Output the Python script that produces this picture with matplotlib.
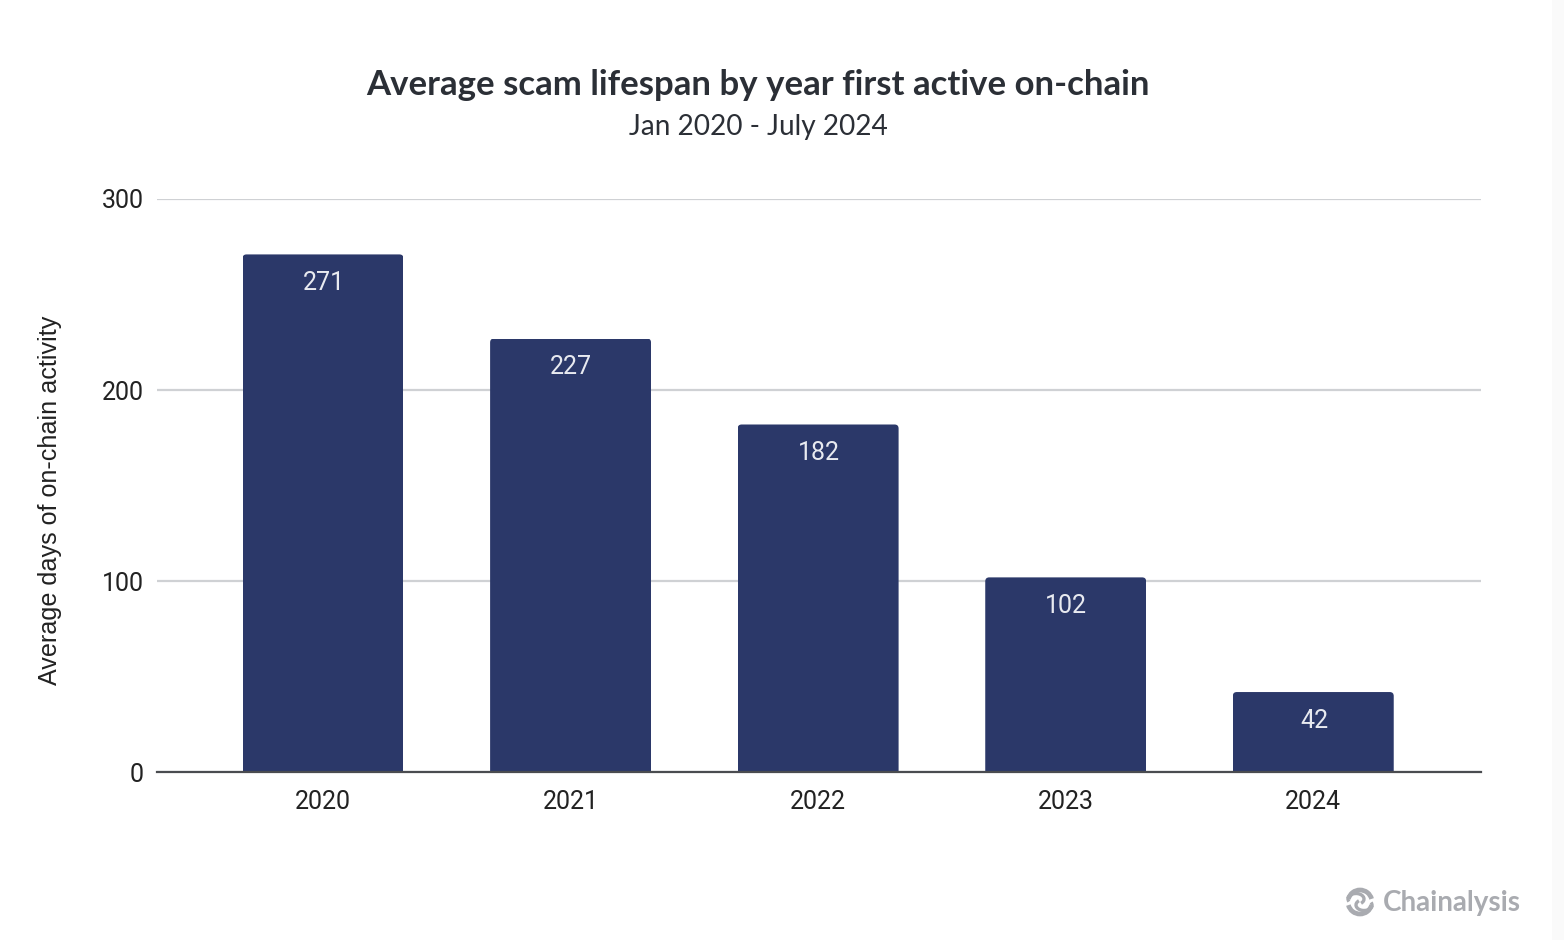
import matplotlib
matplotlib.use("Agg")
import matplotlib.pyplot as plt
from matplotlib.path import Path
from matplotlib.patches import Arc, Rectangle

years = ["2020", "2021", "2022", "2023", "2024"]
lifespan = [271, 227, 182, 102, 42]
y_ticks = [0, 100, 200, 300]

W, H = 1564, 940
NAVY = "#2b3869"
INK = "#2b2f36"


def rounded_top(x0, x1, top, rx, ry):
    """Clip path for a bar, square at the base and rounded at the top."""
    verts = [(x0, -5), (x0, top - ry), (x0, top), (x0 + rx, top),
             (x1 - rx, top), (x1, top), (x1, top - ry), (x1, -5), (x0, -5)]
    codes = [Path.MOVETO, Path.LINETO, Path.CURVE3, Path.CURVE3,
             Path.LINETO, Path.CURVE3, Path.CURVE3, Path.LINETO, Path.CLOSEPOLY]
    return Path(verts, codes)


fig = plt.figure(figsize=(W / 100, H / 100), dpi=100, facecolor="white")
ax = fig.add_axes([157 / W, 1 - 772.3 / H, (1481 - 157) / W, (772.3 - 199) / H])

xs = list(range(len(years)))
bars = ax.bar(xs, lifespan, width=0.65, color=NAVY, zorder=3)
for b in bars:
    # corners are about 4px on screen
    b.set_clip_path(rounded_top(b.get_x(), b.get_x() + b.get_width(), b.get_height(),
                                4 / 247.6, 4 / 1.91), ax.transData)

for x, v in zip(xs, lifespan):
    ax.annotate(str(v), (x, v), xytext=(0.5, -28.5 * 0.72), textcoords="offset points",
                ha="center", va="center", color="#e8eaf0", fontsize=18,
                family="Roboto", zorder=4)

ax.set_xlim(-0.6705, 4.6775)
ax.set_ylim(0, 300)
ax.set_yticks(y_ticks)
ax.set_xticks(xs, years)
ax.grid(axis="y", color="#cfd1d4", lw=1.6, zorder=0)
ax.set_axisbelow(True)
for s in ["top", "right", "left"]:
    ax.spines[s].set_visible(False)
ax.spines["bottom"].set_color("#4a4c50")
ax.spines["bottom"].set_linewidth(1.6)
ax.spines["bottom"].set_zorder(5)
ax.tick_params(length=0, labelsize=18, labelcolor="#222222")
ax.tick_params(axis="x", pad=13)
ax.tick_params(axis="y", pad=9.5)
for lab in ax.get_xticklabels() + ax.get_yticklabels():
    lab.set_family("Roboto")

fig.text(50 / W, 1 - 500 / H, "Average days of on-chain activity", rotation=90,
         ha="center", va="center", fontsize=18.1, color="#222222", family="Liberation Sans")
fig.text(757.5 / W, 1 - 85 / H, "Average scam lifespan by year first active on-chain",
         ha="center", va="center", fontsize=25, fontweight="bold", color=INK, family="Lato")
fig.text(758 / W, 1 - 127 / H, "Jan 2020 - July 2024", ha="center", va="center",
         fontsize=20.2, color=INK, family="Lato")

# Chainalysis logo, bottom right
logo = fig.add_axes([0, 0, 1, 1], facecolor="none")
logo.set_xlim(0, W)
logo.set_ylim(H, 0)
logo.axis("off")
GREY = "#a9abb0"
logo.add_patch(Arc((1360, 902), 24, 24, theta1=195, theta2=345, color=GREY, lw=3.4))
logo.add_patch(Arc((1360, 902), 24, 24, theta1=15, theta2=165, color=GREY, lw=3.4))
logo.add_patch(Arc((1356, 899), 16, 11, theta1=160, theta2=400, color=GREY, lw=2.4))
logo.add_patch(Arc((1364, 905), 16, 11, theta1=-20, theta2=220, color=GREY, lw=2.4))
logo.text(1383, 903, "Chainalysis", ha="left", va="center", fontsize=20,
          fontweight="bold", color=GREY, family="Lato")

# pale strip along the right edge of the screenshot
logo.add_patch(Rectangle((1552, 0), 12, H, color="#fafafa", lw=0))

fig.savefig("out.png", dpi=100, facecolor="white")
